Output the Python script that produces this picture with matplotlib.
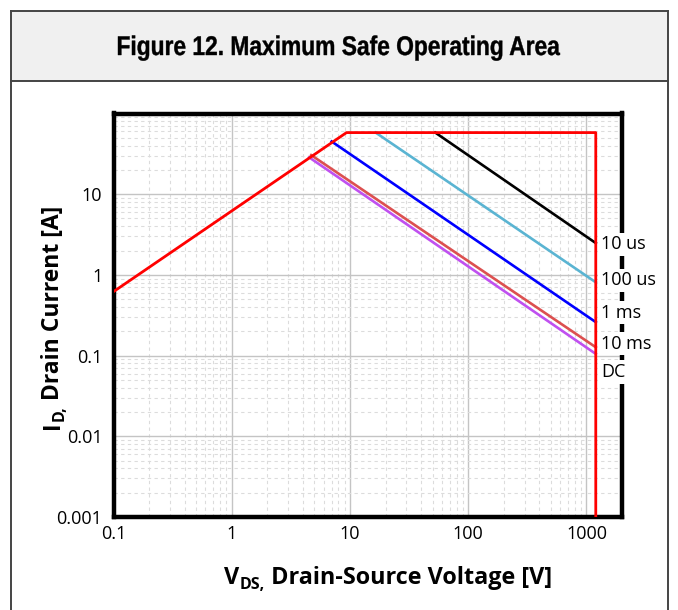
import numpy as np
import matplotlib
matplotlib.use('Agg')
import matplotlib.pyplot as plt
from matplotlib.ticker import LogLocator, NullFormatter
from matplotlib.lines import Line2D
from matplotlib.patches import Rectangle, PathPatch
from matplotlib.textpath import TextPath
from matplotlib.font_manager import FontProperties
from matplotlib.transforms import Affine2D

# outer limit: Rds(on) slope, current limit, 1200 V limit
limit_v = [0.1, 9.35, 1200, 1200]
limit_i = [0.62, 58, 58, 0.001]

# pulse width lines: start point and current at the 1200 V end
pulse_names = ['10 us', '100 us', '1 ms', '10 ms', 'DC']
pulse_v0 = [52.7, 16.5, 7.0, 4.7, 4.52]
pulse_i0 = [58, 58, 45, 30.5, 28.6]
pulse_v1 = [1200, 1200, 1200, 1200, 1200]
pulse_i1 = [2.48, 0.81, 0.26, 0.127, 0.105]
pulse_colors = ['#000000', '#5ab4d2', '#0000ff', '#dc5050', '#c050f0']
label_y = [2.39, 0.855, 0.342, 0.141, 0.063]

x_ticks = [0.1, 1, 10, 100, 1000]
x_ticklabels = ['0.1', '1', '10', '100', '1000']
y_ticks = [0.001, 0.01, 0.1, 1, 10]
y_ticklabels = ['0.001', '0.01', '0.1', '1', '10']

title = 'Figure 12. Maximum Safe Operating Area'
xlabel_parts = [('V', 16.8, 0), ('DS,', 11.5, 5), (' Drain-Source Voltage [V]', 16.8, 0)]
ylabel_parts = [('I', 16.5, 0), ('D,', 11.5, 5), (' Drain Current [A]', 16.5, 0)]

plt.rcParams['font.family'] = ['Open Sans', 'DejaVu Sans']

W, H = 678, 610
fig = plt.figure(figsize=(W / 100, H / 100), dpi=100)

# header box + frame
fig.add_artist(Rectangle((11 / W, 1 - 80.7 / H), (668 - 11) / W, 70 / H,
                         transform=fig.transFigure, facecolor='#f0f0f0',
                         edgecolor='none', zorder=0))
frame = dict(transform=fig.transFigure, color='#444444', lw=1.4, zorder=1)
fig.add_artist(Line2D([11 / W, 11 / W], [0, 1 - 10.7 / H], **frame))
fig.add_artist(Line2D([668 / W, 668 / W], [0, 1 - 10.7 / H], **frame))
fig.add_artist(Line2D([11 / W, 668 / W], [1 - 10.7 / H, 1 - 10.7 / H], **frame))
fig.add_artist(Line2D([11 / W, 668 / W], [1 - 80.7 / H, 1 - 80.7 / H], **frame))

# narrow bold title: squeeze Liberation Sans Bold horizontally
tp = TextPath((0, 0), title, size=27,
              prop=FontProperties(family='Liberation Sans', weight='bold'))
tb = tp.get_extents()
sx = 442 / tb.width
tr = Affine2D().translate(-tb.x0 - tb.width / 2, 0).scale(sx, 1).translate(339, H - 55)
fig.add_artist(PathPatch(tp, transform=tr, facecolor='black', edgecolor='black',
                         lw=0.3, zorder=2))

ax = fig.add_axes([113.5 / W, 1 - 517 / H, (622 - 113.5) / W, (517 - 113.5) / H])
ax.set_xscale('log')
ax.set_yscale('log')
ax.set_xlim(0.1, 2000)
ax.set_ylim(0.001, 100)

for i in range(len(pulse_names)):
    ax.plot([pulse_v0[i], pulse_v1[i]], [pulse_i0[i], pulse_i1[i]],
            color=pulse_colors[i], lw=1.9, zorder=3)
    ax.text(1330, label_y[i], pulse_names[i], ha='left', va='center',
            fontsize=13, clip_on=False, zorder=5,
            bbox=dict(facecolor='white', edgecolor='none', pad=2.0))

ax.plot(limit_v, limit_i, color='#ff0000', lw=2.0, zorder=4)

ax.set_xticks(x_ticks)
ax.set_xticklabels(x_ticklabels)
ax.set_yticks(y_ticks)
ax.set_yticklabels(y_ticklabels)
ax.xaxis.set_minor_locator(LogLocator(base=10, subs=np.arange(2, 10)))
ax.yaxis.set_minor_locator(LogLocator(base=10, subs=np.arange(2, 10)))
ax.xaxis.set_minor_formatter(NullFormatter())
ax.yaxis.set_minor_formatter(NullFormatter())
ax.tick_params(which='both', length=0, labelsize=13)
ax.tick_params(axis='x', pad=6)
ax.tick_params(axis='y', pad=8)

ax.grid(which='major', color='#c4c4c4', lw=1.0, ls='-')
ax.grid(which='minor', color='#dcdcdc', lw=0.8, ls=(0, (3, 3)))
ax.set_axisbelow(True)

for s in ax.spines.values():
    s.set_linewidth(3.2)
    s.set_color('black')


def compound_label(parts, cx, cy, rot):
    # lay out bold text pieces (with subscripts) centred on (cx, cy) in pixels
    r = fig.canvas.get_renderer()
    texts, widths = [], []
    for s, size, drop in parts:
        t = fig.text(0, 0, s, fontsize=size, fontweight='bold', ha='left',
                     va='baseline', rotation=rot, rotation_mode='anchor')
        bb = t.get_window_extent(r)
        texts.append(t)
        widths.append(bb.width if rot == 0 else bb.height)
    pos = -sum(widths) / 2
    for t, w, (s, size, drop) in zip(texts, widths, parts):
        if rot == 0:
            t.set_position(((cx + pos) / W, (cy - drop) / H))
        else:
            t.set_position(((cx + drop) / W, (cy + pos) / H))
        pos += w


compound_label(xlabel_parts, 388, H - 584, 0)
compound_label(ylabel_parts, 59, H - 317, 90)

fig.savefig('out.png', dpi=100)
